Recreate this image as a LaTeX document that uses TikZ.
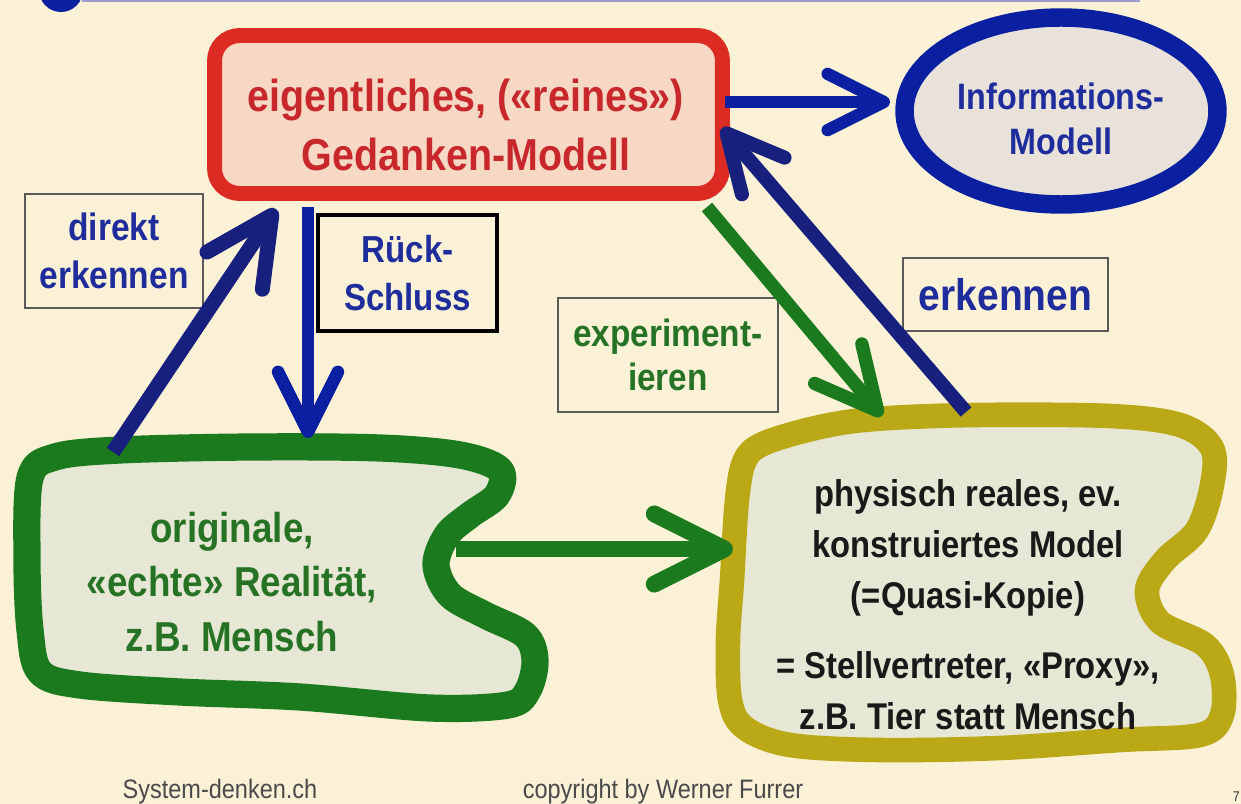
\documentclass[tikz,border=0pt]{standalone}
\usepackage{fontspec}
\setmainfont{Liberation Sans}
\newfontfamily\nar[FakeStretch=0.88]{Liberation Sans}
\usetikzlibrary{arrows.meta,shapes.geometric}
\definecolor{bg}{HTML}{FBF1D7}
\definecolor{blueA}{HTML}{0A20A0}
\definecolor{navy}{HTML}{18207E}
\definecolor{redB}{HTML}{DB2B22}
\definecolor{redF}{HTML}{F6D8C4}
\definecolor{redT}{HTML}{C8282B}
\definecolor{greenA}{HTML}{1B7A1D}
\definecolor{greenT}{HTML}{277326}
\definecolor{olive}{HTML}{BBA816}
\definecolor{blobF}{HTML}{E6E7D4}
\definecolor{ellF}{HTML}{E8E2DA}
\definecolor{txtB}{HTML}{1E2D9B}
\definecolor{topline}{HTML}{9C9CD0}
\definecolor{foot}{HTML}{4A4A4A}
\tikzset{
  lbl/.style={draw=#1, line width=0.8pt, align=center, inner sep=0pt},
  bigtxt/.style={align=center, inner sep=0pt},
  tipA/.style={-{Straight Barb[length=#1,width=#1,round]}},
}
\begin{document}
\begin{tikzpicture}[x=0.02cm,y=-0.02cm]
\useasboundingbox (0,0) rectangle (1241,804);
\fill[bg] (0,0) rectangle (1241,804);
% header remnants
\draw[topline, line width=1.7pt] (82,1) -- (1140,1);
\fill[blueA] (61,-10) circle[radius=0.44cm];

% blobs
\draw[draw=greenA, fill=blobF, line width=15.5pt, line join=round]
  plot[smooth cycle, tension=0.55] coordinates {
  (30,478) (55,457) (120,450) (250,447) (380,448) (460,455) (500,470)
  (497,495) (470,515) (447,535) (436,565) (450,595) (485,615) (525,635)
  (535,660) (528,690) (508,705) (430,708) (300,697) (180,692) (80,685)
  (40,672) (30,630) (27,560)};
\draw[draw=olive, fill=blobF, line width=14pt, line join=round]
  plot[smooth cycle, tension=0.55] coordinates {
  (765,443) (820,427) (875,419) (975,415) (1110,416) (1180,425) (1212,448)
  (1212,485) (1197,530) (1165,560) (1147,590) (1160,622) (1205,645)
  (1222,675) (1222,715) (1200,735) (1120,740) (1000,748) (880,750)
  (790,745) (745,728) (730,700) (728,640) (732,580) (737,500) (745,460)};

% main boxes
\node[draw=redB, fill=redF, line width=8.5pt, rounded corners=0.5cm,
      minimum width=10.16cm, minimum height=3.16cm] (model) at (468.5,114.5) {};
\node[bigtxt, text=redT, font={\nar\bfseries\fontsize{25.5}{33.5}\selectfont}]
  (modeltxt) at (466,125) {eigentliches, («reines»)\\Gedanken-Modell};

\node[ellipse, draw=blueA, fill=ellF, line width=10.5pt,
      minimum width=6.26cm, minimum height=3.74cm] (info) at (1061,111) {};
\node[bigtxt, text=txtB, font={\nar\bfseries\fontsize{20.9}{25.5}\selectfont}]
  (infotxt) at (1061,119) {Informations-\\Modell};

\node[bigtxt, text=greenT, font={\nar\bfseries\fontsize{23.8}{31}\selectfont}]
  (orig) at (232,582) {originale,\\«echte» Realität,\\z.B. Mensch};
\node[bigtxt, text=black!90, font={\nar\bfseries\fontsize{21.2}{29}\selectfont}]
  (proxy) at (968,605) {physisch reales, ev.\\konstruiertes Model\\(=Quasi-Kopie)\\[11pt]= Stellvertreter, «Proxy»,\\z.B. Tier statt Mensch};

% label boxes
\node[lbl=black!65, minimum width=3.56cm, minimum height=2.28cm, text=txtB,
      font={\nar\bfseries\fontsize{21.7}{27.2}\selectfont}] (direkt) at (114,251) {direkt\\erkennen};
\node[lbl=black, line width=1.8pt, minimum width=3.58cm, minimum height=2.32cm, text=txtB,
      font={\nar\bfseries\fontsize{21.4}{27.2}\selectfont}] (rueck) at (407.5,273) {Rück-\\Schluss};
\node[lbl=black!65, minimum width=4.4cm, minimum height=2.28cm, text=greenT,
      font={\nar\bfseries\fontsize{21.6}{25.5}\selectfont}] (exper) at (668,355) {experiment-\\ieren};
\node[lbl=black!65, minimum width=4.1cm, minimum height=1.46cm, text=txtB,
      font={\nar\bfseries\fontsize{25.2}{30}\selectfont}] (erk) at (1005.5,294.5) {erkennen};

% arrow end points
\coordinate (infoS) at (725,102);
\coordinate (infoE) at (890,102);
\coordinate (rueckS) at (308,207);
\coordinate (rueckE) at (308,438);
\coordinate (direktS) at (113,452);
\coordinate (direktE) at (276,209);
\coordinate (experS) at (707,207);
\coordinate (experE) at (882,416);
\coordinate (erkS) at (966,412);
\coordinate (erkE) at (722,128);
\coordinate (horS) at (456,549);
\coordinate (horE) at (733,549);

% arrows
\draw[blueA, line width=7pt, tipA=32pt] (infoS) -- (infoE);
\draw[blueA, line width=7.2pt, tipA=34pt] (rueckS) -- (rueckE);
\draw[navy, line width=8.5pt, tipA=38pt] (direktS) -- (direktE);
\draw[greenA, line width=7.6pt, tipA=35pt] (experS) -- (experE);
\draw[navy, line width=8pt, tipA=32pt] (erkS) -- (erkE);
\draw[greenA, line width=9.6pt, tipA=40pt] (horS) -- (horE);

% footer
\node[text=foot, font={\nar\fontsize{15.2}{18}\selectfont}, inner sep=0pt] (f1) at (220,792) {System-denken.ch};
\node[text=foot, font={\nar\fontsize{15.2}{18}\selectfont}, inner sep=0pt] (f2) at (663,792) {copyright by Werner Furrer};
\node[text=black!80, font={\nar\fontsize{8}{10}\selectfont}, anchor=south east, inner sep=0pt] (pg) at (1240,802) {7};
\end{tikzpicture}
\end{document}
